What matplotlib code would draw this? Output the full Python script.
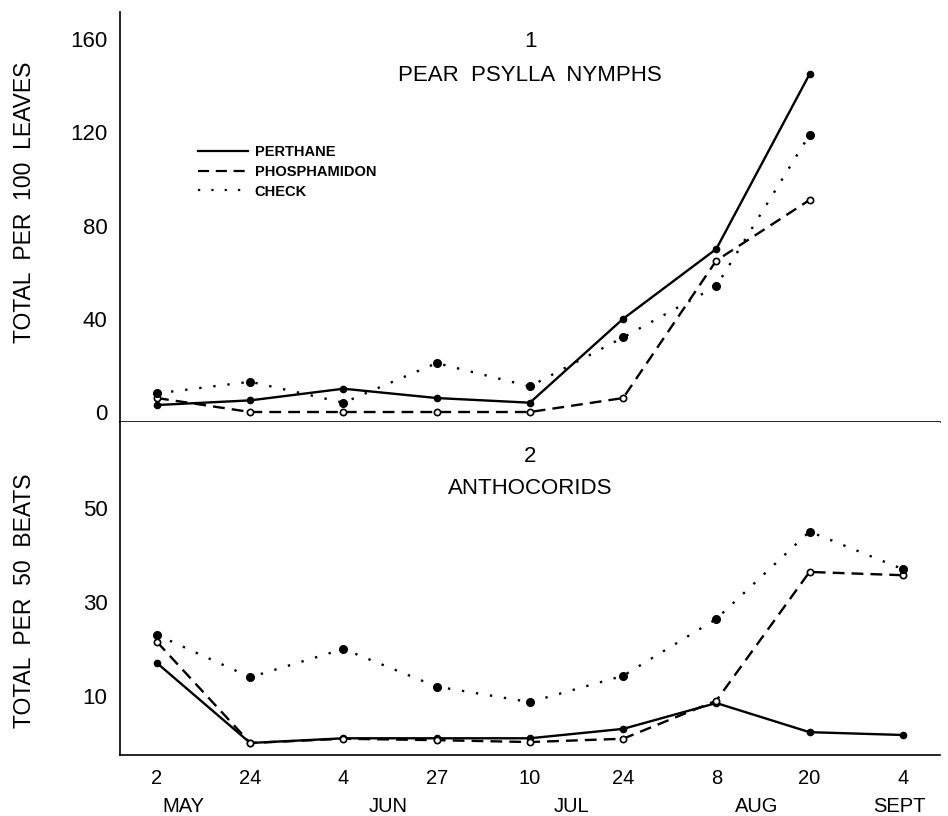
import matplotlib
matplotlib.use("Agg")
import matplotlib.pyplot as plt
import matplotlib.transforms as mtransforms

plt.rcParams['font.family'] = ['Liberation Sans', 'DejaVu Sans']

# sampling dates (day of month) and month names under them
days = ['2', '24', '4', '27', '10', '24', '8', '20', '4']
months = ['MAY', 'JUN', 'JUL', 'AUG', 'SEPT']

# panel 1: pear psylla nymphs, total per 100 leaves (no Sept sample)
psylla_perthane = [3, 5, 10, 6, 4, 40, 70, 145]
psylla_phosphamidon = [6, 0, 0, 0, 0, 6, 65, 91]
psylla_check = [8, 13, 4, 21, 11, 32, 54, 119]

# panel 2: anthocorids, total per 50 beats
antho_perthane = [17, 0, 1, 1, 1, 3, 8.5, 2.3, 1.7]
antho_phosphamidon = [21.5, 0, 0.9, 0.6, 0.2, 0.9, 9, 36.4, 35.7]
antho_check = [23, 14, 20, 12, 8.7, 14.3, 26.4, 45, 37]

series_names = ['PERTHANE', 'PHOSPHAMIDON', 'CHECK']

fig = plt.figure(figsize=(9.48, 8.16), dpi=100)
ax1 = fig.add_axes([0.1266, 0.4828, 0.865, 0.5025])
ax2 = fig.add_axes([0.1266, 0.0748, 0.865, 0.408], sharex=ax1)

styles = [
    dict(color='black', lw=1.7, ls='-', marker='o', ms=4.5, mfc='black', mec='black'),
    dict(color='black', lw=1.7, ls=(0, (5, 3)), marker='o', ms=4.5, mfc='white', mec='black', mew=1.2),
    dict(color='black', lw=1.7, ls=(0, (1, 5)), marker='o', ms=5.5, mfc='black', mec='black'),
]

for ax, data in ((ax1, (psylla_perthane, psylla_phosphamidon, psylla_check)),
                 (ax2, (antho_perthane, antho_phosphamidon, antho_check))):
    for name, vals, st in zip(series_names, data, styles):
        ax.plot(range(len(vals)), vals, label=name, **st)
    for s in ('top', 'right'):
        ax.spines[s].set_visible(False)
    for s in ('left', 'bottom'):
        ax.spines[s].set_linewidth(1.2)
    ax.tick_params(axis='y', length=0, pad=9, labelsize=16)

ax1.set_xlim(-0.397, 8.40)
ax1.set_ylim(-4.3, 171.7)
ax1.set_yticks([0, 40, 80, 120, 160])
ax1.tick_params(axis='x', length=0, labelbottom=False)

ax2.set_ylim(-2.55, 68.3)
ax2.set_yticks([10, 30, 50])
ax2.set_xticks(range(len(days)), days)
ax2.tick_params(axis='x', length=0, pad=10, labelsize=14.5)

ax1.set_ylabel('TOTAL  PER  100  LEAVES', fontsize=16.5)
ax1.yaxis.set_label_coords(-0.102, 0.537)
ax2.set_ylabel('TOTAL  PER  50  BEATS', fontsize=16.5)
ax2.yaxis.set_label_coords(-0.102, 0.462)

ax1.text(0.5, 0.927, '1', transform=ax1.transAxes, ha='center', va='center', fontsize=16)
ax1.text(0.5, 0.846, 'PEAR  PSYLLA  NYMPHS', transform=ax1.transAxes,
         ha='center', va='center', fontsize=16)
ax2.text(0.5, 0.895, '2', transform=ax2.transAxes, ha='center', va='center', fontsize=16)
ax2.text(0.5, 0.799, 'ANTHOCORIDS', transform=ax2.transAxes,
         ha='center', va='center', fontsize=16)

# month names sit in a second row under the day numbers
month_x = [0.28, 2.48, 4.45, 6.43, 7.96]
trans = mtransforms.blended_transform_factory(ax2.transData, ax2.transAxes)
for mx, m in zip(month_x, months):
    ax2.text(mx, -0.156, m, transform=trans, ha='center', va='center', fontsize=14.5)

leg_handles = [plt.Line2D([], [], color='black', lw=1.6, ls=st['ls']) for st in styles]
leg = ax1.legend(leg_handles, series_names, loc='upper left', bbox_to_anchor=(0.095, 0.676),
                 frameon=False, borderpad=0, borderaxespad=0, handlelength=3.4,
                 handletextpad=0.5, labelspacing=0.4,
                 prop=dict(size=10.5, weight='bold'))

fig.savefig('out.png', dpi=100)
